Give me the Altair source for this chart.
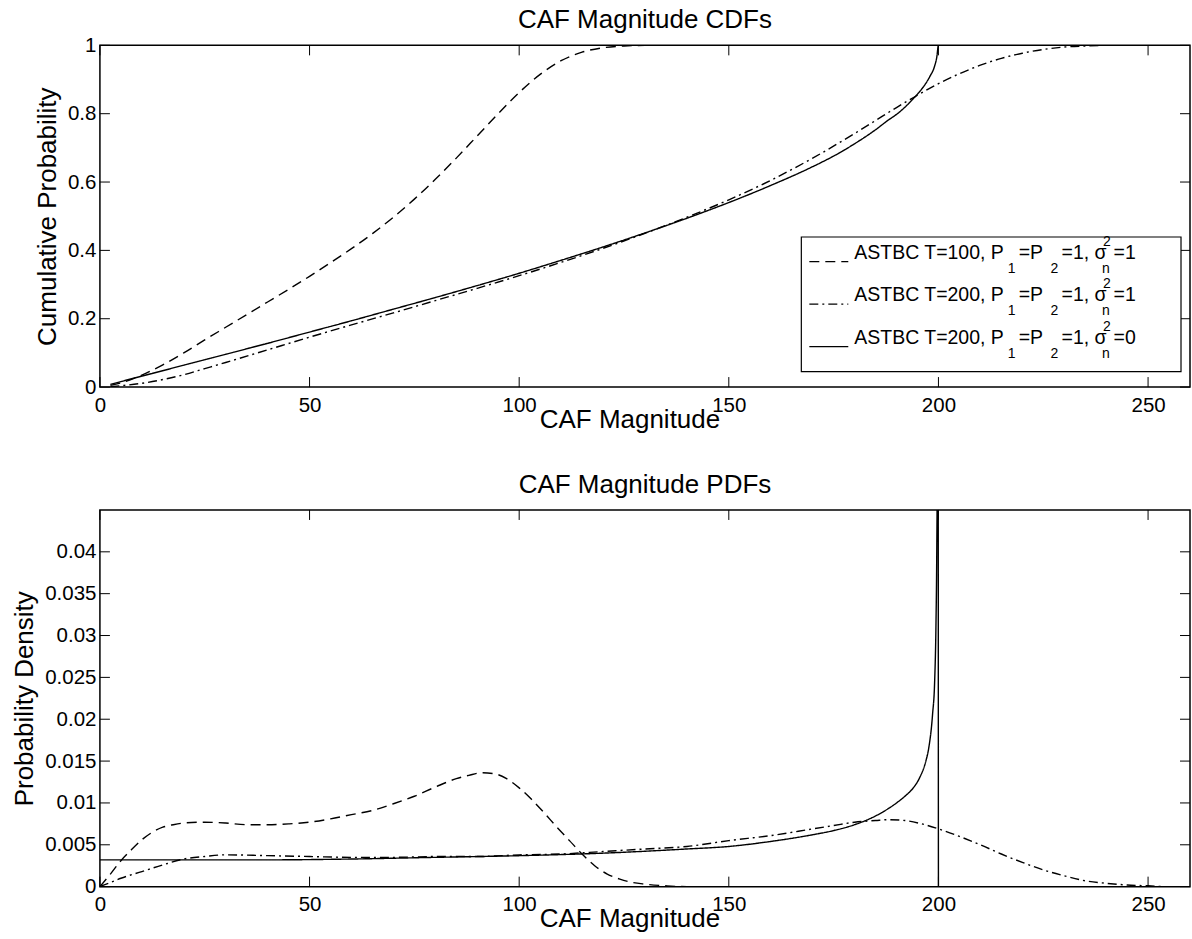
import altair as alt
import pandas as pd

FONT = "Liberation Sans"

# ---------------- data ----------------
x_ticks = [0, 50, 100, 150, 200, 250]
cdf_y_ticks = [0, 0.2, 0.4, 0.6, 0.8, 1.0]
pdf_y_ticks = [0, 0.005, 0.01, 0.015, 0.02, 0.025, 0.03, 0.035, 0.04]

series_names = ["T=100, s2=1", "T=200, s2=1", "T=200, s2=0"]
legend_T = ["100", "200", "200"]
legend_P = ["1", "1", "1"]
legend_sigma2 = ["1", "1", "0"]

# CDFs
cdf_x_t100 = [2.5, 5, 10, 15, 20, 25, 30, 35, 40, 45, 50, 55, 60, 65, 70, 75, 80, 85, 90, 95,
              100, 105, 110, 115, 120, 125, 130, 260]
cdf_t100 = [0.005, 0.012, 0.035, 0.065, 0.100, 0.138, 0.175, 0.212, 0.249, 0.286, 0.324, 0.364,
            0.405, 0.449, 0.497, 0.550, 0.608, 0.670, 0.735, 0.800, 0.862, 0.915, 0.955, 0.980,
            0.993, 0.998, 1.0, 1.0]

cdf_x_t200n1 = [2.5, 5, 10, 15, 20, 25, 30, 40, 50, 60, 70, 80, 90, 100, 110, 120, 130, 140, 150,
                160, 170, 180, 185, 190, 195, 200, 205, 210, 215, 220, 225, 230, 235, 240, 260]
cdf_t200n1 = [0.001, 0.004, 0.011, 0.022, 0.036, 0.054, 0.072, 0.109, 0.146, 0.182, 0.217, 0.253,
              0.289, 0.326, 0.365, 0.406, 0.450, 0.497, 0.548, 0.605, 0.670, 0.742, 0.780, 0.818,
              0.854, 0.888, 0.917, 0.942, 0.962, 0.977, 0.988, 0.995, 0.998, 1.0, 1.0]

cdf_x_t200n0 = [2.5, 5, 10, 20, 30, 40, 50, 60, 70, 80, 90, 100, 110, 120, 130, 140, 150, 160, 170,
                175, 180, 185, 188, 190, 192, 194, 196, 197, 198, 199, 199.6, 200, 260]
cdf_t200n0 = [0.008, 0.016, 0.032, 0.064, 0.096, 0.128, 0.161, 0.194, 0.228, 0.262, 0.297, 0.333,
              0.371, 0.410, 0.451, 0.494, 0.540, 0.590, 0.645, 0.676, 0.712, 0.753, 0.781, 0.798,
              0.819, 0.844, 0.872, 0.889, 0.910, 0.936, 0.965, 1.0, 1.0]

# PDFs
pdf_x_t100 = [0, 2.5, 5, 7.5, 10, 12.5, 15, 17.5, 20, 25, 30, 35, 40, 45, 50, 55, 60, 65, 70, 75,
              80, 85, 88, 91, 94, 97, 100, 103, 106, 109, 112, 115, 118, 121, 124, 127, 130, 135,
              140, 260]
pdf_t100 = [0, 0.0015, 0.0031, 0.0044, 0.0056, 0.0065, 0.0071, 0.0074, 0.0076, 0.0077, 0.0076,
            0.0074, 0.0074, 0.0075, 0.0077, 0.0081, 0.0086, 0.0091, 0.0099, 0.0108, 0.0119,
            0.0129, 0.0133, 0.0136, 0.0135, 0.0129, 0.0118, 0.0104, 0.0088, 0.0071, 0.0055,
            0.0039, 0.0025, 0.0015, 0.0009, 0.0005, 0.0003, 0.0001, 0.0, 0.0]

pdf_x_t200n1 = [0, 2.5, 5, 10, 15, 20, 25, 30, 40, 50, 60, 70, 80, 90, 100, 110, 120, 130, 140,
                150, 160, 170, 175, 180, 185, 188, 192, 196, 200, 205, 210, 215, 220, 225, 230,
                235, 240, 245, 250, 255, 260]
pdf_t200n1 = [0, 0.0005, 0.0010, 0.0018, 0.0026, 0.0033, 0.0036, 0.0038, 0.0037, 0.0036, 0.0035,
              0.0035, 0.0036, 0.0036, 0.0038, 0.0039, 0.0042, 0.0045, 0.0048, 0.0055, 0.0061,
              0.0069, 0.0073, 0.0077, 0.0079, 0.0080, 0.0079, 0.0075, 0.0069, 0.0060, 0.0050,
              0.0039, 0.0029, 0.0020, 0.0013, 0.0007, 0.0004, 0.0002, 0.0001, 0.0, 0.0]

pdf_x_t200n0 = [0, 20, 40, 60, 80, 100, 120, 140, 150, 160, 170, 175, 180, 184, 187, 190, 192,
                194, 195.5, 197, 197.7, 198.6, 199.1, 199.4, 199.6, 199.8, 199.9, 200, 260]
pdf_t200n0 = [0.0032, 0.0032, 0.0032, 0.0033, 0.0035, 0.0037, 0.0040, 0.0045, 0.0048, 0.0054,
              0.0062, 0.0067, 0.0074, 0.0082, 0.0090, 0.0100, 0.0108, 0.0118, 0.0130, 0.0150,
              0.0166, 0.0206, 0.0246, 0.031, 0.040, 0.06, 0.1, 0.0, 0.0]

# ---------------- layout / style ----------------
W, H1, H2 = 1091, 342, 377
TICK = 10
DASHES = [[10, 6], [9, 4, 2, 4], [1, 0]]
LINE_W = 1.4
LABEL_FS = 20.5


def long_df(xs_list, ys_list):
    rows = []
    for name, xs, ys in zip(series_names, xs_list, ys_list):
        for x, y in zip(xs, ys):
            rows.append({"series": name, "x": x, "y": y})
    return pd.DataFrame(rows)


one_row = alt.Data(values=[{}])


def panel(df, yticks, ydomain, H, ytitle, ytitle_x, title_text, extra=None):
    xs = alt.Scale(domain=[0, 260], nice=False, zero=False)
    ys = alt.Scale(domain=ydomain, nice=False, zero=False)
    xaxis = alt.Axis(values=x_ticks, format="d", grid=False, ticks=False, tickSize=0,
                     domain=False, labelFont=FONT, labelFontSize=LABEL_FS, labelColor="black",
                     labelPadding=8, labelFlush=False, labelOverlap=False,
                     title="CAF Magnitude", titleFont=FONT, titleFontSize=26,
                     titleFontWeight="normal", titleColor="black", titleX=530, titleY=40,
                     titleAlign="center", titleBaseline="alphabetic")
    yaxis = alt.Axis(values=yticks, format="~g", grid=False, ticks=False, tickSize=0,
                     domain=False, labelFont=FONT, labelFontSize=LABEL_FS, labelColor="black",
                     labelPadding=4, labelFlush=False, labelOverlap=False,
                     title=ytitle, titleFont=FONT, titleFontSize=26,
                     titleFontWeight="normal", titleColor="black", titleX=ytitle_x,
                     titleY=H / 2, titleAngle=270, titleAlign="center",
                     titleBaseline="alphabetic")
    X = alt.X("x:Q", scale=xs, axis=xaxis)
    Y = alt.Y("y:Q", scale=ys, axis=yaxis)

    lines = alt.Chart(df).mark_line(clip=True, strokeWidth=LINE_W, color="black",
                                    interpolate="monotone").encode(
        x=X, y=Y,
        strokeDash=alt.StrokeDash("series:N",
                                  scale=alt.Scale(domain=series_names, range=DASHES),
                                  legend=None),
        detail="series:N",
    )
    xt = pd.DataFrame({"x": x_ticks})
    yt = pd.DataFrame({"y": yticks})
    rule = dict(color="black", strokeWidth=1)
    xt_b = alt.Chart(xt).mark_rule(**rule).encode(x=X, y=alt.value(H), y2=alt.value(H - TICK))
    xt_t = alt.Chart(xt).mark_rule(**rule).encode(x=X, y=alt.value(0), y2=alt.value(TICK))
    yt_l = alt.Chart(yt).mark_rule(**rule).encode(y=Y, x=alt.value(0), x2=alt.value(TICK))
    yt_r = alt.Chart(yt).mark_rule(**rule).encode(y=Y, x=alt.value(W), x2=alt.value(W - TICK))
    ttl = alt.Chart(one_row).mark_text(text=title_text, font=FONT, fontSize=26, align="center",
                                       baseline="alphabetic", color="black").encode(
        x=alt.value(W / 2), y=alt.value(-17))
    layers = [lines, xt_b, xt_t, yt_l, yt_r, ttl] + (extra or [])
    return alt.layer(*layers).properties(width=W, height=H)


# ---------------- custom legend (top panel) ----------------
LX0 = 755          # text start
ROW_BASE = [213.5, 256.0, 298.5]
legend_layers = [
    alt.Chart(one_row).mark_rect(fill="white", stroke="black", strokeWidth=1.2).encode(
        x=alt.value(702), x2=alt.value(1082), y=alt.value(191.8), y2=alt.value(326.5))
]
for i in range(3):
    b = ROW_BASE[i]
    legend_layers.append(
        alt.Chart(one_row).mark_rule(color="black", strokeWidth=LINE_W, strokeDash=DASHES[i]).encode(
            x=alt.value(710), x2=alt.value(749), y=alt.value(b + 3))
    )
    pieces = [
        (f"ASTBC T={legend_T[i]}, P", 0, 0, 19.5),
        ("1", 153.5, 14, 14),
        ("=P", 164.5, 0, 19.5),
        ("2", 196.5, 14, 14),
        (f"={legend_P[i]}, σ", 207.5, 0, 19.5),
        ("2", 249, -13, 14),
        ("n", 248, 14, 14),
        (f"={legend_sigma2[i]}", 259.5, 0, 19.5),
    ]
    for txt, dx, dy, fs in pieces:
        legend_layers.append(
            alt.Chart(one_row).mark_text(text=txt, font=FONT, fontSize=fs, align="left",
                                         baseline="alphabetic", color="black").encode(
                x=alt.value(LX0 + dx), y=alt.value(b + dy))
        )

# invisible anchor fixing the plot origin on the page
anchor = alt.Chart(one_row).mark_rule(opacity=0, strokeOpacity=0).encode(
    x=alt.value(-99), x2=alt.value(-98), y=alt.value(-43.5), y2=alt.value(-42.5))

cdf_df = long_df([cdf_x_t100, cdf_x_t200n1, cdf_x_t200n0], [cdf_t100, cdf_t200n1, cdf_t200n0])
pdf_df = long_df([pdf_x_t100, pdf_x_t200n1, pdf_x_t200n0], [pdf_t100, pdf_t200n1, pdf_t200n0])

top = panel(cdf_df, cdf_y_ticks, [0, 1], H1, "Cumulative Probability", -44,
            "CAF Magnitude CDFs", legend_layers + [anchor])
bottom = panel(pdf_df, pdf_y_ticks, [0, 0.045], H2, "Probability Density", -67.5,
               "CAF Magnitude PDFs")

chart = alt.vconcat(top, bottom, spacing=123, bounds="flush").properties(
    padding=0
).configure(font=FONT).configure_view(
    stroke="black", strokeWidth=1.5
).configure_axis(labelFontSize=LABEL_FS, labelFont=FONT, labelColor="black")

chart.save("out.html", embed_options={"renderer": "svg", "actions": False})
